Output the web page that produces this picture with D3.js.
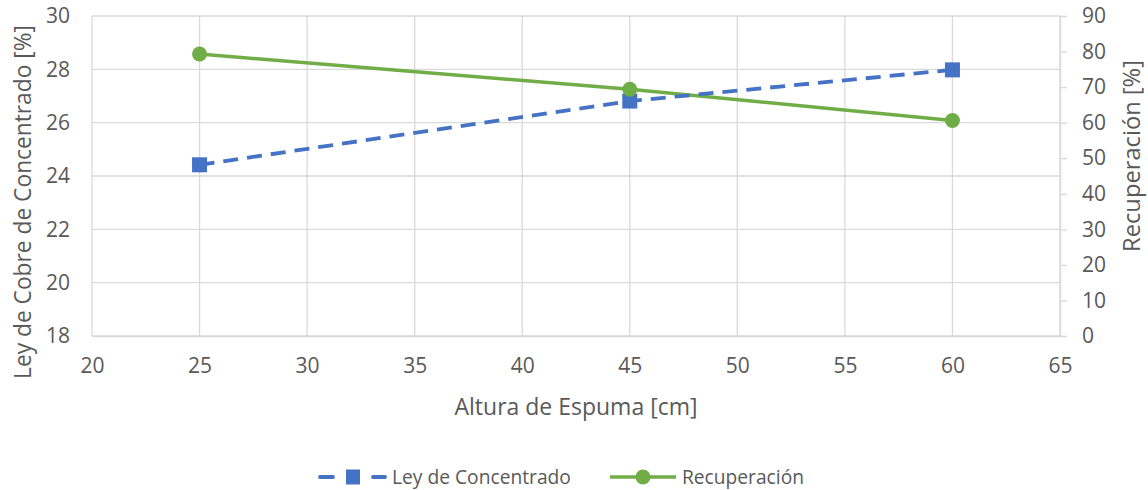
<!DOCTYPE html>
<html>
<head>
<meta charset="utf-8">
<script src="https://cdn.jsdelivr.net/npm/d3@7"></script>
<style>
  body { margin: 0; background: #fff; }
  text { font-family: "Open Sans", sans-serif; fill: #595959; }
</style>
</head>
<body>
<svg id="chart" width="1148" height="490"></svg>
<script>
const alturas = [25, 45, 60];
const leyConcentrado = [24.42, 26.81, 27.98];
const recuperacion = [79.3, 69.4, 60.6];
const xTicks = [20, 25, 30, 35, 40, 45, 50, 55, 60, 65];
const yLeftTicks = [18, 20, 22, 24, 26, 28, 30];
const yRightTicks = [0, 10, 20, 30, 40, 50, 60, 70, 80, 90];

const BLUE = "#4472C4";
const GREEN = "#70AD47";
const GRID = "#d9d9d9";

const margin = { top: 16, right: 88, bottom: 154, left: 92 };
const W = 1148, H = 490;
const w = W - margin.left - margin.right, h = H - margin.top - margin.bottom;

const svg = d3.select("#chart");
const g = svg.append("g").attr("transform", `translate(${margin.left},${margin.top})`);

const x = d3.scaleLinear().domain([20, 65]).range([0, w]);
const yL = d3.scaleLinear().domain([18, 30]).range([h, 0]);
const yR = d3.scaleLinear().domain([0, 90]).range([h, 0]);

// scale the font so the text is as long as in the reference (no Calibri here)
function fitText(sel, target) {
  sel.style("font-size", "20px");
  const len = sel.node().getComputedTextLength();
  sel.style("font-size", (20 * target / len) + "px");
  return sel;
}

// grid
g.append("g").selectAll("line").data(yLeftTicks).enter().append("line")
  .attr("x1", 0).attr("x2", w)
  .attr("y1", d => yL(d)).attr("y2", d => yL(d))
  .attr("stroke", GRID).attr("stroke-width", 1.3);
g.append("g").selectAll("line").data(xTicks).enter().append("line")
  .attr("x1", d => x(d)).attr("x2", d => x(d))
  .attr("y1", 0).attr("y2", h)
  .attr("stroke", GRID).attr("stroke-width", 1.3);

// axes
const xAxis = g.append("g").attr("transform", `translate(0,${h})`)
  .call(d3.axisBottom(x).tickValues(xTicks).tickSize(0).tickPadding(22));
const yAxisL = g.append("g")
  .call(d3.axisLeft(yL).tickValues(yLeftTicks).tickSize(0).tickPadding(22));
const yAxisR = g.append("g").attr("transform", `translate(${w},0)`)
  .call(d3.axisRight(yR).tickValues(yRightTicks).tickSize(7).tickPadding(15));

[xAxis, yAxisL, yAxisR].forEach(a => {
  a.select(".domain").attr("stroke", GRID).attr("stroke-width", 1.3);
  a.selectAll(".tick line").attr("stroke", GRID).attr("stroke-width", 1.3);
  a.selectAll("text").style("font-size", "21px").attr("fill", "#595959");
});
yAxisL.select(".domain").remove();

// lines
const leyData = alturas.map((a, i) => ({ x: a, y: leyConcentrado[i] }));
const recData = alturas.map((a, i) => ({ x: a, y: recuperacion[i] }));

g.append("path").datum(recData)
  .attr("fill", "none").attr("stroke", GREEN).attr("stroke-width", 3.5)
  .attr("d", d3.line().x(d => x(d.x)).y(d => yR(d.y)));
g.append("path").datum(leyData)
  .attr("fill", "none").attr("stroke", BLUE).attr("stroke-width", 3.8)
  .attr("stroke-dasharray", "15,9")
  .attr("d", d3.line().x(d => x(d.x)).y(d => yL(d.y)));

g.selectAll(".sq").data(leyData).enter().append("rect")
  .attr("x", d => x(d.x) - 7.5).attr("y", d => yL(d.y) - 7.5)
  .attr("width", 15).attr("height", 15).attr("fill", BLUE);
g.selectAll(".dot").data(recData).enter().append("circle")
  .attr("cx", d => x(d.x)).attr("cy", d => yR(d.y))
  .attr("r", 7.5).attr("fill", GREEN);

// axis titles
fitText(svg.append("text").attr("x", 576).attr("y", 415)
  .attr("text-anchor", "middle")
  .text("Altura de Espuma [cm]"), 243);
fitText(svg.append("text")
  .attr("transform", "translate(31,202) rotate(-90)")
  .attr("text-anchor", "middle")
  .text("Ley de Cobre de Concentrado [%]"), 354);
fitText(svg.append("text")
  .attr("transform", "translate(1140,156) rotate(-90)")
  .attr("text-anchor", "middle")
  .text("Recuperación [%]"), 192);

// legend
const lg = svg.append("g").attr("transform", "translate(0,477)");
lg.append("line").attr("x1", 320).attr("x2", 333).attr("y1", 0).attr("y2", 0)
  .attr("stroke", BLUE).attr("stroke-width", 3.8).attr("stroke-linecap", "round");
lg.append("line").attr("x1", 373).attr("x2", 385).attr("y1", 0).attr("y2", 0)
  .attr("stroke", BLUE).attr("stroke-width", 3.8).attr("stroke-linecap", "round");
lg.append("rect").attr("x", 346).attr("y", -7.5).attr("width", 14).attr("height", 15).attr("fill", BLUE);
fitText(lg.append("text").attr("x", 392).attr("y", 0).attr("dy", "0.35em")
  .text("Ley de Concentrado"), 179);
lg.append("line").attr("x1", 610).attr("x2", 676).attr("y1", 0).attr("y2", 0)
  .attr("stroke", GREEN).attr("stroke-width", 3.5);
lg.append("circle").attr("cx", 643).attr("cy", 0).attr("r", 7.5).attr("fill", GREEN);
fitText(lg.append("text").attr("x", 682).attr("y", 0).attr("dy", "0.35em")
  .text("Recuperación"), 122);
</script>
</body>
</html>
